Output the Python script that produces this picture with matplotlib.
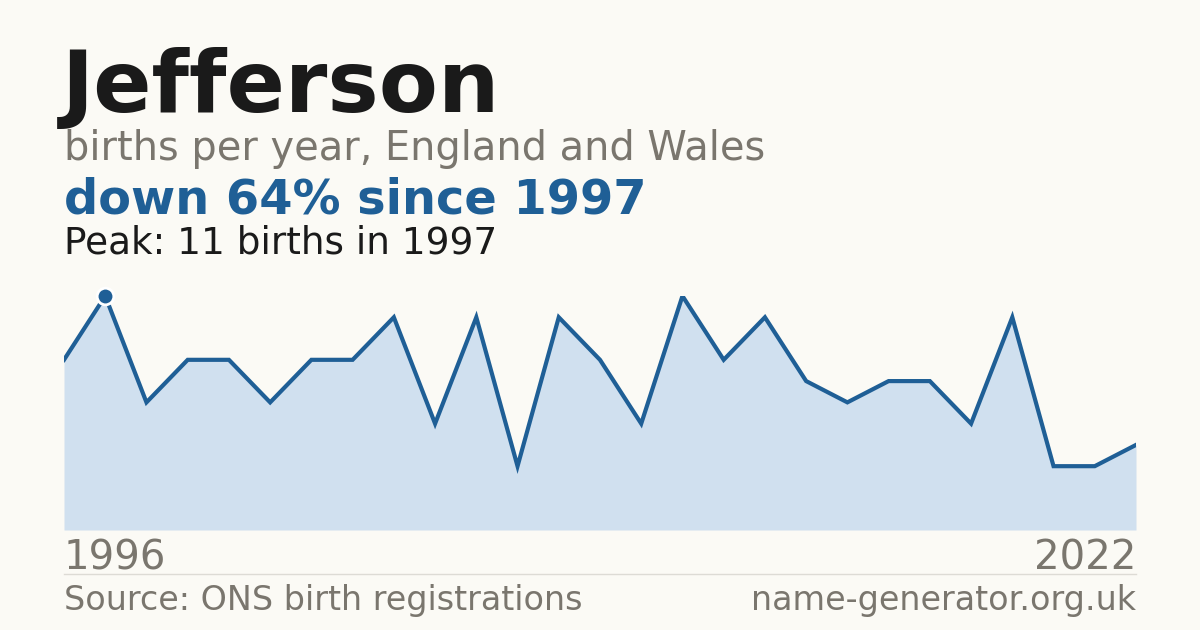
import matplotlib
matplotlib.use("Agg")
import matplotlib.pyplot as plt
from matplotlib.lines import Line2D

years = list(range(1996, 2023))
births = [8, 11, 6, 8, 8, 6, 8, 8, 10, 5, 10, 3, 10, 8, 5, 11, 8, 10, 7, 6, 7, 7, 5, 10, 3, 3, 4]

title = "Jefferson"
subtitle = "births per year, England and Wales"
headline = "down 64% since 1997"
peak_text = "Peak: 11 births in 1997"
source = "Source: ONS birth registrations"
site = "name-generator.org.uk"

BG = "#fbfaf5"
BLUE = "#1f5f96"
FILL = "#d0e0ef"
GRAY = "#7a766e"
DARK = "#1a1a1a"

W, H = 1200, 630
fig = plt.figure(figsize=(12, 6.3), dpi=100, facecolor=BG)
plt.rcParams['font.family'] = ['DejaVu Sans']

def fx(px):
    return px / W

def fy(py):
    return 1 - py / H

ax = fig.add_axes([fx(64), fy(530), fx(1136) - fx(64), (530 - 296) / H])
ax.set_facecolor(BG)
ax.fill_between(years, births, 0, color=FILL, linewidth=0)
ax.plot(years, births, color=BLUE, linewidth=3.0, solid_joinstyle='miter')
pk = births.index(max(births))
ax.plot([years[pk]], [births[pk]], 'o', color=BLUE, markersize=12,
        markeredgecolor='white', markeredgewidth=2, clip_on=False, zorder=5)
ax.set_xlim(years[0], years[-1])
ax.set_ylim(0, max(births))
ax.axis('off')

fig.text(fx(62), fy(112), title, fontsize=62, fontweight='bold', color=DARK, va='baseline')
fig.text(fx(64), fy(160), subtitle, fontsize=28.7, color=GRAY, va='baseline')
fig.text(fx(64), fy(214), headline, fontsize=34.5, fontweight='bold', color=BLUE, va='baseline')
fig.text(fx(64), fy(253), peak_text, fontsize=26.9, color=DARK, va='baseline')
fig.text(fx(64), fy(570), str(years[0]), fontsize=29, color=GRAY, va='baseline')
fig.text(fx(1136), fy(570), str(years[-1]), fontsize=29, color=GRAY, va='baseline', ha='right')
fig.add_artist(Line2D([fx(64), fx(1136)], [fy(574), fy(574)], color="#dddbd5", linewidth=1))
fig.text(fx(64), fy(610), source, fontsize=24, color=GRAY, va='baseline')
fig.text(fx(1136), fy(610), site, fontsize=24, color=GRAY, va='baseline', ha='right')

fig.savefig("out.png", dpi=100, facecolor=BG)
